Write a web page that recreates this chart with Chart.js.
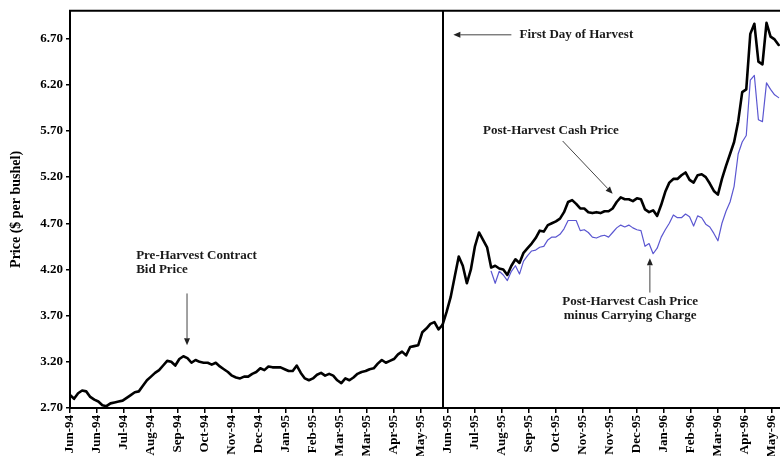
<!DOCTYPE html>
<html>
<head>
<meta charset="utf-8">
<script src="https://cdn.jsdelivr.net/npm/chart.js@4.4.1/dist/chart.umd.min.js"></script>
<style>
  html, body { margin: 0; padding: 0; background: #fff; overflow: hidden; }
</style>
</head>
<body>
<canvas id="priceChart" width="780" height="459"></canvas>
<script>
// one value every 3 trading days, one x tick every 20 trading days
var DAY_STEP = 3;
var TICK_EVERY = 20;

var tickLabels = ['Jun-94', 'Jun-94', 'Jul-94', 'Aug-94', 'Sep-94', 'Oct-94', 'Nov-94', 'Dec-94',
    'Jan-95', 'Feb-95', 'Mar-95', 'Mar-95', 'Apr-95', 'May-95', 'Jun-95', 'Jul-95', 'Aug-95',
    'Sep-95', 'Oct-95', 'Nov-95', 'Nov-95', 'Dec-95', 'Jan-96', 'Feb-96', 'Mar-96', 'Apr-96', 'May-96'];

var yTicks = [2.70, 3.20, 3.70, 4.20, 4.70, 5.20, 5.70, 6.20, 6.70];

// pre-harvest contract bid price (starts at step 0)
var preHarvestBid = [
    2.84, 2.80, 2.86, 2.89, 2.88, 2.82, 2.79, 2.77, 2.73, 2.72,
    2.75, 2.76, 2.77, 2.78, 2.81, 2.84, 2.87, 2.88, 2.94, 3.00,
    3.04, 3.08, 3.11, 3.16, 3.21, 3.20, 3.16, 3.23, 3.26, 3.24,
    3.19, 3.22, 3.20, 3.19, 3.19, 3.17, 3.19, 3.15, 3.12, 3.09,
    3.05, 3.03, 3.02, 3.04, 3.04, 3.07, 3.09, 3.13, 3.11, 3.15,
    3.14, 3.14, 3.14, 3.12, 3.10, 3.10, 3.16, 3.08, 3.02, 3.00,
    3.02, 3.06, 3.08, 3.05, 3.07, 3.05, 3.00, 2.97, 3.02, 3.00,
    3.03, 3.07, 3.09, 3.10, 3.12, 3.13, 3.18, 3.22, 3.19, 3.21,
    3.23, 3.28, 3.31, 3.27, 3.36, 3.37, 3.38, 3.52, 3.56, 3.61,
    3.63, 3.55, 3.60
];

// post-harvest cash price (starts at step 92)
var cashStart = 92;
var postHarvestCash = [
    3.60, 3.74, 3.90, 4.12, 4.34, 4.24, 4.05, 4.20, 4.45, 4.60,
    4.52, 4.44, 4.22, 4.24, 4.21, 4.20, 4.14, 4.24, 4.31, 4.27,
    4.38, 4.43, 4.48, 4.54, 4.62, 4.61, 4.68, 4.70, 4.72, 4.75,
    4.82, 4.93, 4.95, 4.91, 4.86, 4.86, 4.82, 4.81, 4.82, 4.81,
    4.83, 4.83, 4.86, 4.93, 4.98, 4.96, 4.96, 4.94, 4.97, 4.96,
    4.85, 4.82, 4.84, 4.78, 4.90, 5.04, 5.14, 5.18, 5.18, 5.22,
    5.25, 5.17, 5.14, 5.22, 5.23, 5.20, 5.13, 5.05, 5.01, 5.18,
    5.32, 5.45, 5.58, 5.80, 6.12, 6.15, 6.75, 6.86, 6.45, 6.42,
    6.87, 6.72, 6.69, 6.63
];

// cash price minus carrying charge (starts at step 104)
var carryStart = 104;
var cashMinusCarry = [
    4.18, 4.05, 4.18, 4.14, 4.08, 4.18, 4.24, 4.15, 4.29, 4.35,
    4.40, 4.41, 4.44, 4.45, 4.52, 4.55, 4.55, 4.58, 4.64, 4.73,
    4.73, 4.73, 4.62, 4.63, 4.60, 4.55, 4.54, 4.56, 4.57, 4.55,
    4.60, 4.65, 4.68, 4.66, 4.68, 4.65, 4.63, 4.62, 4.45, 4.48,
    4.37, 4.43, 4.55, 4.63, 4.70, 4.79, 4.76, 4.76, 4.80, 4.77,
    4.67, 4.78, 4.76, 4.69, 4.66, 4.59, 4.51, 4.70, 4.83, 4.93,
    5.10, 5.45, 5.58, 5.65, 6.25, 6.30, 5.82, 5.80, 6.22, 6.15,
    6.09, 6.06
];

var harvestDay = 276;

function toPoints(values, start) {
    return values.map(function (v, k) {
        return { x: (start + k) * DAY_STEP, y: v };
    });
}

var serif = "'Liberation Serif', 'Times New Roman', serif";
var inkColor = '#1a1a1a';

// notes drawn on top of the chart, anchored in data units
var notes = [
    { lines: ['First Day of Harvest'], day: 333, price: 6.74, align: 'left',
      arrow: { fromDay: 327, fromPrice: 6.74, toDay: 284, toPrice: 6.74 } },
    { lines: ['Post-Harvest Cash Price'], day: 306, price: 5.70, align: 'left',
      arrow: { fromDay: 365, fromPrice: 5.59, toDay: 402, toPrice: 5.02 } },
    { lines: ['Post-Harvest Cash Price', 'minus Carrying Charge'], day: 415, price: 3.85, align: 'center',
      arrow: { fromDay: 429.6, fromPrice: 3.95, toDay: 429.6, toPrice: 4.32 } },
    { lines: ['Pre-Harvest Contract', 'Bid Price'], day: 49, price: 4.35, align: 'left',
      arrow: { fromDay: 86.7, fromPrice: 3.94, toDay: 86.7, toPrice: 3.38 } }
];

function drawArrow(ctx, x1, y1, x2, y2) {
    var ang = Math.atan2(y2 - y1, x2 - x1);
    var len = 7, half = 3;
    ctx.beginPath();
    ctx.moveTo(x1, y1);
    ctx.lineTo(x2 - Math.cos(ang) * len, y2 - Math.sin(ang) * len);
    ctx.stroke();
    ctx.beginPath();
    ctx.moveTo(x2, y2);
    ctx.lineTo(x2 - Math.cos(ang) * len - Math.sin(ang) * half, y2 - Math.sin(ang) * len + Math.cos(ang) * half);
    ctx.lineTo(x2 - Math.cos(ang) * len + Math.sin(ang) * half, y2 - Math.sin(ang) * len - Math.cos(ang) * half);
    ctx.closePath();
    ctx.fill();
}

var framePlugin = {
    id: 'frame',
    afterDatasetsDraw: function (chart) {
        var ctx = chart.ctx;
        var area = chart.chartArea;
        var xs = chart.scales.x, ys = chart.scales.y;
        ctx.save();
        // top border
        ctx.strokeStyle = '#000';
        ctx.lineWidth = 2;
        ctx.beginPath();
        ctx.moveTo(area.left - 1, area.top);
        ctx.lineTo(chart.width, area.top);
        ctx.stroke();
        // first day of harvest
        var hx = Math.round(xs.getPixelForValue(harvestDay));
        ctx.beginPath();
        ctx.moveTo(hx, area.top);
        ctx.lineTo(hx, area.bottom);
        ctx.stroke();

        ctx.strokeStyle = '#444';
        ctx.fillStyle = '#222';
        ctx.lineWidth = 1;
        notes.forEach(function (n) {
            var a = n.arrow;
            drawArrow(ctx, xs.getPixelForValue(a.fromDay), ys.getPixelForValue(a.fromPrice),
                xs.getPixelForValue(a.toDay), ys.getPixelForValue(a.toPrice));
        });
        ctx.fillStyle = inkColor;
        ctx.font = 'bold 13px ' + serif;
        ctx.textBaseline = 'middle';
        notes.forEach(function (n) {
            ctx.textAlign = n.align;
            var x = xs.getPixelForValue(n.day);
            var y = ys.getPixelForValue(n.price);
            n.lines.forEach(function (line, k) {
                ctx.fillText(line, x, y + k * 14);
            });
        });
        ctx.restore();
    }
};

var ctx = document.getElementById('priceChart').getContext('2d');

var myChart = new Chart(ctx, {
    type: 'line',
    data: {
        datasets: [{
            label: 'Post-Harvest Cash Price minus Carrying Charge',
            data: toPoints(cashMinusCarry, carryStart),
            borderColor: '#5b57d1',
            borderWidth: 1.2,
            order: 0
        }, {
            label: 'Pre-Harvest Contract Bid Price',
            data: toPoints(preHarvestBid, 0),
            borderColor: '#000',
            borderWidth: 2.6,
            order: 1
        }, {
            label: 'Post-Harvest Cash Price',
            data: toPoints(postHarvestCash, cashStart),
            borderColor: '#000',
            borderWidth: 2.6,
            order: 1
        }]
    },
    options: {
        responsive: false,
        animation: false,
        devicePixelRatio: 1,
        elements: {
            point: { radius: 0 },
            line: { tension: 0, borderJoinStyle: 'round', borderCapStyle: 'round' }
        },
        layout: { padding: { left: 4, top: 10, right: 0, bottom: 3 } },
        plugins: {
            legend: { display: false },
            tooltip: { enabled: false }
        },
        scales: {
            x: {
                type: 'linear',
                min: 0,
                max: 526,
                afterBuildTicks: function (axis) {
                    axis.ticks = tickLabels.map(function (l, k) { return { value: k * TICK_EVERY }; });
                },
                afterFit: function (axis) {
                    axis.height = 48;
                    // plot runs off the right edge like the source image
                    axis.paddingLeft = 0;
                    axis.paddingRight = 0;
                },
                ticks: {
                    autoSkip: false,
                    minRotation: 90,
                    maxRotation: 90,
                    padding: 2,
                    color: '#000',
                    font: { family: serif, size: 13, weight: 'bold' },
                    callback: function (v, idx) { return tickLabels[idx]; }
                },
                grid: { drawOnChartArea: false, drawTicks: true, tickLength: 5, color: '#000', lineWidth: 1.5 },
                border: { display: true, color: '#000', width: 2 }
            },
            y: {
                min: 2.7,
                max: 7.0,
                afterBuildTicks: function (axis) {
                    axis.ticks = yTicks.map(function (v) { return { value: v }; });
                },
                afterFit: function (axis) { axis.width = 66; },
                ticks: {
                    padding: 3,
                    color: '#000',
                    font: { family: serif, size: 13, weight: 'bold' },
                    callback: function (v) { return v.toFixed(2); }
                },
                grid: { drawOnChartArea: false, drawTicks: true, tickLength: 4, color: '#000', lineWidth: 1.5 },
                border: { display: true, color: '#000', width: 2 },
                title: {
                    display: true,
                    text: 'Price ($ per bushel)',
                    color: '#000',
                    font: { family: serif, size: 14, weight: 'bold' },
                    padding: { top: 4, bottom: 6 }
                }
            }
        }
    },
    plugins: [framePlugin]
});
</script>
</body>
</html>
